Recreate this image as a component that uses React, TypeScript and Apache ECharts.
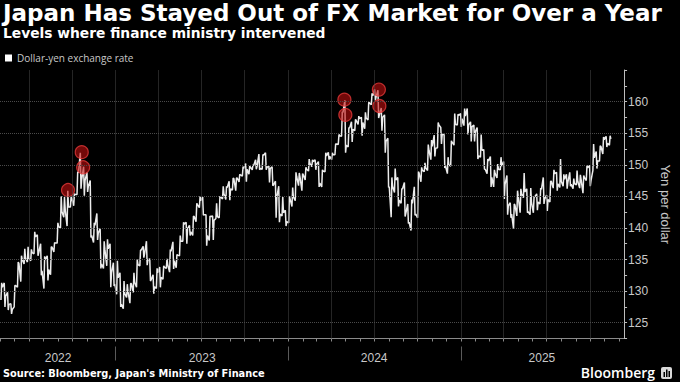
import React, { useEffect, useRef } from 'react';
import * as echarts from 'echarts';

// Weekly (week ending Friday) dollar-yen close / high / low
const firstWeekEnding = '2022-05-06';

const close2022 = [130.6, 129.2, 127.9, 127.1, 130.9, 134.4, 135.0, 135.2, 135.2, 136.1, 138.6, 136.1, 133.2, 135.0, 133.4, 137.0, 137.6, 140.2, 142.6, 142.9, 143.3, 144.7, 145.3, 148.7, 147.7, 147.5, 146.6, 138.8, 140.4, 139.2, 134.3, 136.6, 136.7, 132.9, 131.1];
const high2022 = [131.3, 131.3, 129.8, 128.0, 130.9, 134.6, 135.6, 136.7, 137.0, 136.6, 139.4, 138.9, 137.5, 135.5, 135.6, 137.0, 137.7, 140.8, 145.0, 144.9, 145.9, 144.9, 145.4, 148.9, 151.9, 149.7, 148.8, 147.5, 140.8, 142.3, 139.9, 137.9, 138.2, 137.5, 134.5];
const low2022 = [128.6, 127.5, 127.0, 126.4, 127.5, 130.6, 131.5, 134.3, 134.6, 134.8, 135.9, 135.6, 132.5, 130.4, 131.7, 132.6, 136.2, 137.6, 140.0, 141.7, 140.3, 143.3, 143.5, 145.3, 146.2, 145.1, 145.7, 138.5, 137.7, 138.1, 133.6, 133.6, 134.0, 130.6, 130.8];

const close2023 = [132.1, 127.9, 129.6, 129.9, 131.2, 131.4, 134.2, 136.5, 135.9, 134.9, 131.8, 130.7, 132.9, 132.2, 133.8, 134.2, 136.3, 134.8, 135.7, 137.9, 140.6, 139.9, 139.4, 141.8, 143.7, 144.3, 142.1, 138.8, 141.8, 141.2, 141.8, 144.9, 145.4, 146.4, 146.2, 147.8, 147.9, 148.4, 149.4, 149.3, 149.6, 149.9, 149.7, 149.4, 151.5, 149.6, 149.4, 146.8, 144.9, 142.2, 142.4, 141.0];
const high2023 = [134.8, 132.9, 131.6, 131.1, 131.2, 132.9, 135.0, 136.5, 137.1, 137.9, 135.1, 132.6, 133.6, 133.8, 134.0, 135.1, 136.6, 137.8, 135.8, 138.8, 140.9, 140.9, 140.4, 141.9, 143.9, 145.0, 144.9, 142.1, 141.9, 141.9, 143.9, 145.0, 146.6, 146.6, 147.4, 147.9, 147.9, 148.5, 149.7, 150.2, 149.8, 150.0, 150.8, 151.7, 151.6, 151.9, 149.8, 149.7, 147.4, 146.6, 144.9, 142.8];
const low2023 = [129.5, 127.5, 127.2, 129.0, 128.1, 129.8, 130.6, 134.0, 135.3, 134.1, 131.6, 129.6, 130.4, 130.6, 131.9, 133.6, 133.0, 133.5, 133.7, 135.6, 137.9, 137.5, 138.8, 138.8, 141.0, 143.2, 142.0, 137.2, 138.0, 138.1, 141.5, 141.6, 144.6, 144.5, 144.4, 146.0, 145.9, 147.3, 148.2, 147.3, 148.5, 149.2, 149.3, 149.2, 149.3, 149.2, 147.2, 146.7, 141.6, 140.9, 141.9, 140.3];

const close2024 = [144.6, 144.9, 148.1, 148.1, 148.4, 149.3, 150.2, 150.5, 150.1, 147.1, 149.0, 151.4, 151.35, 151.6, 153.3, 154.6, 158.3, 153.1, 155.8, 155.6, 157.0, 157.3, 156.7, 157.4, 159.8, 160.9, 160.7, 157.9, 157.5, 153.7, 146.5, 146.6, 147.6, 144.4, 146.2, 142.3, 140.9, 143.9, 142.2, 148.7, 149.1, 149.5, 152.3, 152.9, 152.6, 156.3, 154.8, 149.8, 150.0, 153.6, 156.4, 157.8];
const high2024 = [145.0, 146.4, 148.8, 148.7, 148.6, 149.6, 150.9, 150.8, 150.8, 150.5, 149.2, 151.9, 151.97, 151.9, 153.3, 154.8, 158.4, 160.2, 155.9, 156.8, 157.2, 157.7, 157.5, 158.3, 159.9, 161.3, 161.95, 161.8, 159.0, 157.9, 154.2, 148.0, 149.4, 148.0, 146.2, 147.2, 143.8, 144.5, 146.5, 148.9, 149.6, 150.3, 153.2, 153.9, 154.7, 156.7, 155.9, 154.8, 151.2, 153.8, 158.1, 158.0];
const low2024 = [140.8, 143.4, 144.3, 146.7, 145.9, 147.6, 149.0, 149.7, 149.2, 146.5, 146.5, 148.9, 150.8, 150.8, 151.6, 153.2, 154.5, 151.9, 152.8, 153.6, 155.4, 156.4, 154.6, 155.7, 157.1, 159.5, 160.2, 157.4, 155.4, 151.9, 146.4, 141.7, 145.6, 143.4, 143.9, 141.8, 140.7, 139.6, 142.0, 141.6, 147.3, 148.9, 149.1, 150.8, 151.3, 152.7, 153.3, 149.5, 148.6, 149.8, 153.1, 156.3];

const close2025 = [157.3, 157.7, 156.3, 156.0, 155.2, 151.4, 152.3, 149.3, 150.6, 148.0, 148.6, 149.3, 149.8, 146.9, 143.5, 142.2, 143.6, 144.9, 145.4, 145.7, 142.6, 144.0, 144.9, 144.1, 146.1, 144.6, 144.5, 147.4, 148.6, 147.0, 147.4, 147.7, 147.2, 146.9, 147.0, 147.4, 147.7, 148.0, 149.5, 147.5, 151.1, 150.6, 152.9, 154.0, 153.4, 154.1];
const high2025 = [158.1, 158.9, 158.9, 156.8, 156.3, 155.9, 154.8, 152.4, 150.9, 151.3, 149.2, 150.1, 151.2, 150.5, 148.3, 144.0, 143.8, 145.9, 146.2, 148.7, 146.2, 146.3, 145.0, 145.4, 146.3, 148.0, 145.2, 147.4, 149.2, 148.8, 150.9, 148.5, 148.5, 148.8, 147.8, 149.1, 148.4, 148.3, 149.9, 149.9, 153.3, 152.1, 153.0, 154.4, 154.5, 154.6];
const low2025 = [156.0, 156.2, 154.8, 153.7, 153.7, 150.9, 151.2, 149.3, 148.6, 146.5, 146.5, 147.9, 149.2, 144.6, 142.1, 141.6, 139.9, 141.9, 142.4, 144.8, 142.4, 142.1, 142.4, 142.8, 143.8, 143.8, 142.7, 144.1, 146.3, 145.9, 146.4, 146.6, 146.2, 146.6, 146.2, 146.8, 146.3, 145.5, 147.5, 146.6, 149.1, 149.4, 150.6, 151.7, 152.8, 153.1];

// Intervention days and levels
const interventionDates = ['2022-09-22', '2022-10-21', '2022-10-24', '2024-04-29', '2024-05-01', '2024-07-11', '2024-07-12'];
const interventionLevels = [146.0, 152.0, 149.6, 160.3, 157.9, 161.9, 159.3];

// Axis definitions
const axisStart = '2022-05-01';
const axisEnd = '2025-12-12';
const quarterStarts = ['2022-07-01', '2022-10-01', '2023-01-01', '2023-04-01', '2023-07-01', '2023-10-01', '2024-01-01', '2024-04-01', '2024-07-01', '2024-10-01', '2025-01-01', '2025-04-01', '2025-07-01', '2025-10-01'];
const yearStarts = ['2023-01-01', '2024-01-01', '2025-01-01'];
const yearLabelAnchors = ['2022-09-01', '2023-07-03', '2024-07-01', '2025-06-21'];
const yGridLevels = [125, 130, 135, 140, 145, 150, 155, 160];

const TITLE = 'Japan Has Stayed Out of FX Market for Over a Year';
const SUBTITLE = 'Levels where finance ministry intervened';
const SOURCE = "Source: Bloomberg, Japan's Ministry of Finance";

const DAY = 86400000;
const t = (s: string) => new Date(s + 'T00:00:00').getTime();

function monthStarts(): number[] {
  const out: number[] = [];
  const d = new Date(2022, 4, 1);
  const end = t(axisEnd);
  while (d.getTime() <= end) {
    out.push(d.getTime());
    d.setMonth(d.getMonth() + 1);
  }
  return out;
}

export default function App() {
  const ref = useRef<HTMLDivElement>(null);

  useEffect(() => {
    if (!ref.current) return;
    const chart = echarts.init(ref.current, undefined, { renderer: 'svg' });

    const closes = [...close2022, ...close2023, ...close2024, ...close2025];
    const highs = [...high2022, ...high2023, ...high2024, ...high2025];
    const lows = [...low2022, ...low2023, ...low2024, ...low2025];
    const f0 = t(firstWeekEnding);
    const pathData: [number, number][] = [];
    let prev = (highs[0] + lows[0]) / 2;
    for (let i = 0; i < closes.length; i++) {
      const fri = f0 + 7 * i * DAY;
      const up = closes[i] >= prev;
      const e1 = up ? lows[i] : highs[i];
      const e2 = up ? highs[i] : lows[i];
      pathData.push([fri - 3 * DAY, e1], [fri - 1.5 * DAY, e2], [fri, closes[i]]);
      prev = closes[i];
    }

    const interventions = interventionDates.map((d, i) => [t(d), interventionLevels[i]]);

    const gridColor = '#4a4a4a';
    const textColor = '#c8c8c8';
    const fontFamily = '"Liberation Sans", Arial, sans-serif';
    const xMin = t(axisStart);
    const xMax = t(axisEnd);

    chart.setOption({
      animation: false,
      backgroundColor: '#000000',
      textStyle: { fontFamily },
      grid: { left: 0, right: 43, top: 70, bottom: 43.5 },
      legend: {
        data: ['Dollar-yen exchange rate'],
        left: 5,
        top: 53,
        padding: 0,
        icon: 'rect',
        itemWidth: 7,
        itemHeight: 7,
        textStyle: { color: textColor, fontSize: 10, fontFamily: '"Open Sans", sans-serif' },
      },
      xAxis: [
        {
          type: 'value',
          min: xMin,
          max: xMax,
          axisLine: { show: true, lineStyle: { color: '#8a8a8a', width: 1 } },
          axisTick: { show: true, customValues: monthStarts(), length: 3, lineStyle: { color: '#8a8a8a' } },
          axisLabel: {
            customValues: yearLabelAnchors.map(t),
            formatter: (v: number) => String(new Date(v).getFullYear()),
            color: textColor,
            fontSize: 12,
            margin: 13,
          },
          splitLine: { show: false },
        },
        {
          type: 'value',
          min: xMin,
          max: xMax,
          position: 'bottom',
          offset: 8,
          axisLine: { show: false },
          axisTick: { show: true, customValues: yearStarts.map(t), length: 14, lineStyle: { color: '#5a5a5a' } },
          axisLabel: { show: false },
          splitLine: { show: false },
        },
      ],
      yAxis: {
        type: 'value',
        position: 'right',
        min: 122.5,
        max: 165,
        interval: 2.5,
        axisLine: { show: true, lineStyle: { color: '#bdbdbd' } },
        axisTick: { show: true, length: 3, lineStyle: { color: '#bdbdbd' } },
        axisLabel: {
          formatter: (v: number) => (v % 5 === 0 && v < 165 ? String(v) : ''),
          color: textColor,
          fontSize: 12,
          margin: 4,
        },
        splitLine: { show: false },
        name: 'Yen per dollar',
        nameLocation: 'middle',
        nameRotate: -90,
        nameGap: 30,
        nameTextStyle: { color: textColor, fontSize: 13 },
      },
      series: [
        {
          type: 'line',
          name: 'grid',
          data: [],
          z: 1,
          silent: true,
          markLine: {
            silent: true,
            symbol: ['none', 'none'],
            label: { show: false },
            lineStyle: { color: gridColor, type: 'dotted', width: 1 },
            data: [
              ...quarterStarts.map((q) => ({ xAxis: t(q) })),
              ...yGridLevels.map((v) => ({ yAxis: v })),
            ],
          },
        },
        {
          type: 'line',
          name: 'Dollar-yen exchange rate',
          data: pathData,
          showSymbol: false,
          symbol: 'none',
          z: 3,
          lineStyle: { color: '#ececec', width: 1.5 },
          itemStyle: { color: '#ffffff' },
        },
        {
          type: 'scatter',
          name: 'Intervention',
          data: interventions,
          symbolSize: 13,
          z: 4,
          itemStyle: { color: 'rgba(200,16,16,0.72)', borderColor: '#e43a3a', borderWidth: 1.2 },
        },
      ],
      graphic: [
        { type: 'text', left: 3, top: 1, style: { text: TITLE, fill: '#ffffff', font: 'bold 23px "DejaVu Sans", sans-serif' } },
        { type: 'text', left: 3, top: 26, style: { text: SUBTITLE, fill: '#ffffff', font: 'bold 13.8px "DejaVu Sans", sans-serif' } },
        { type: 'text', left: 3, top: 368, style: { text: SOURCE, fill: '#ffffff', font: 'bold 9.8px "DejaVu Sans", sans-serif' } },
        { type: 'text', right: 25, top: 365, style: { text: 'Bloomberg', fill: '#ffffff', font: '600 14px "Open Sans", sans-serif' } },
        {
          type: 'group',
          right: 8,
          top: 367,
          children: [
            { type: 'rect', shape: { x: 0, y: 0, width: 11, height: 12, r: 2 }, style: { fill: '#d9d9d9' } },
            { type: 'rect', shape: { x: 2.5, y: 5, width: 1.5, height: 5 }, style: { fill: '#000' } },
            { type: 'rect', shape: { x: 5, y: 2.5, width: 1.5, height: 7.5 }, style: { fill: '#000' } },
            { type: 'rect', shape: { x: 7.5, y: 4, width: 1.5, height: 6 }, style: { fill: '#000' } },
          ],
        },
      ],
    });

    return () => chart.dispose();
  }, []);

  return (
    <div
      ref={ref}
      style={{ position: 'fixed', left: 0, top: 0, width: 680, height: 382, background: '#000' }}
    />
  );
}
